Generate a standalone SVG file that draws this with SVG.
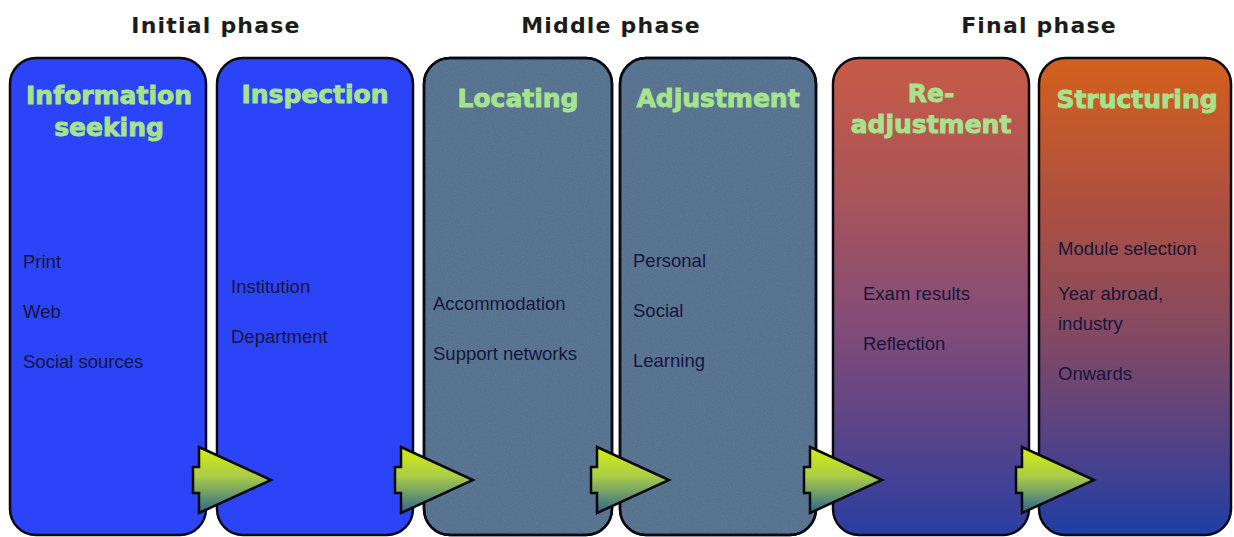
<svg xmlns="http://www.w3.org/2000/svg" xmlns:xlink="http://www.w3.org/1999/xlink" width="1234" height="537" viewBox="0 0 1234 537">
<style>
.card{stroke:#0a0a14;stroke-width:2.5}
.phase{font-family:"DejaVu Sans","Liberation Sans",sans-serif;font-weight:bold;font-size:22px;letter-spacing:1.2px;fill:#1c1c1c;text-anchor:middle}
.title{font-family:"DejaVu Sans","Liberation Sans",sans-serif;font-weight:bold;font-size:25px;fill:#a6e38c;stroke:#a6e38c;stroke-width:0.9px;text-anchor:middle}
.body{font-family:"Liberation Sans","Noto Sans",sans-serif;font-size:18.5px;fill:#16163c}
.arrow{fill:url(#arrowGrad);stroke:#0a0a0a;stroke-width:2.5;stroke-linejoin:miter}
</style>
<defs>
<linearGradient id="arrowGrad" x1="0" y1="0" x2="0" y2="1">
<stop offset="0" stop-color="#d6ee0e"/>
<stop offset="0.45" stop-color="#a8cc48"/>
<stop offset="1" stop-color="#2c6490"/>
</linearGradient>
<linearGradient id="red1" x1="0" y1="0" x2="0" y2="1">
<stop offset="0" stop-color="#c85a46"/>
<stop offset="0.3" stop-color="#a8545a"/>
<stop offset="0.55" stop-color="#844c78"/>
<stop offset="0.78" stop-color="#5a4488"/>
<stop offset="1" stop-color="#2a3ea2"/>
</linearGradient>
<linearGradient id="red2" x1="0" y1="0" x2="0" y2="1">
<stop offset="0" stop-color="#d4601c"/>
<stop offset="0.3" stop-color="#ae5040"/>
<stop offset="0.55" stop-color="#8a4a5e"/>
<stop offset="0.78" stop-color="#5a4282"/>
<stop offset="1" stop-color="#1e3ea4"/>
</linearGradient>
<filter id="noise" x="0" y="0" width="100%" height="100%" color-interpolation-filters="sRGB">
<feTurbulence type="fractalNoise" baseFrequency="0.9" numOctaves="2" seed="3" result="n"/>
<feColorMatrix in="n" type="matrix" values="0 0 0 0 0.45  0 0 0 0 0.55  0 0 0 0 0.66  0 0 0 0.6 -0.22" result="c"/>
<feComposite in="c" in2="SourceGraphic" operator="in"/>
</filter>
<path id="arr" d="M0,447 L72,480 L0,513 L0,493 L-6,493 L-6,467 L0,467 Z"/>
</defs>
<rect width="1234" height="537" fill="#ffffff"/>

<g id="phases">
<text class="phase" x="216" y="33">Initial phase</text>
<text class="phase" x="611" y="33">Middle phase</text>
<text class="phase" x="1039" y="33">Final phase</text>
</g>

<g id="node-information-seeking">
<rect class="card" x="10" y="58" width="196" height="477" rx="26" fill="#2b44f7"/>
<text class="title" x="109" y="104">Information</text>
<text class="title" x="109" y="136">seeking</text>
<text class="body" x="23" y="268">Print</text>
<text class="body" x="23" y="318">Web</text>
<text class="body" x="23" y="368">Social sources</text>
</g>

<g id="node-inspection">
<rect class="card" x="217" y="58" width="196" height="477" rx="26" fill="#2b44f7"/>
<text class="title" x="315" y="103">Inspection</text>
<text class="body" x="231" y="293">Institution</text>
<text class="body" x="231" y="343">Department</text>
</g>

<g id="node-locating">
<rect class="card" x="424" y="58" width="188" height="477" rx="26" fill="#57728f"/>
<rect x="424" y="58" width="188" height="477" rx="26" fill="#57728f" filter="url(#noise)"/>
<rect x="424" y="58" width="188" height="477" rx="26" fill="none" class="card"/>
<text class="title" x="518" y="107">Locating</text>
<text class="body" x="433" y="310">Accommodation</text>
<text class="body" x="433" y="360">Support networks</text>
</g>

<g id="node-adjustment">
<rect class="card" x="620" y="58" width="196" height="477" rx="26" fill="#57728f"/>
<rect x="620" y="58" width="196" height="477" rx="26" fill="#57728f" filter="url(#noise)"/>
<rect x="620" y="58" width="196" height="477" rx="26" fill="none" class="card"/>
<text class="title" x="718" y="107">Adjustment</text>
<text class="body" x="633" y="267">Personal</text>
<text class="body" x="633" y="317">Social</text>
<text class="body" x="633" y="367">Learning</text>
</g>

<g id="node-readjustment">
<rect class="card" x="833" y="58" width="196" height="477" rx="26" fill="url(#red1)"/>
<text class="title" x="931" y="102">Re-</text>
<text class="title" x="931" y="133">adjustment</text>
<text class="body" x="863" y="300">Exam results</text>
<text class="body" x="863" y="350">Reflection</text>
</g>

<g id="node-structuring">
<rect class="card" x="1039" y="58" width="192" height="477" rx="26" fill="url(#red2)"/>
<text class="title" x="1137" y="108">Structuring</text>
<text class="body" x="1058" y="255">Module selection</text>
<text class="body" x="1058" y="300">Year abroad,</text>
<text class="body" x="1058" y="330">industry</text>
<text class="body" x="1058" y="380">Onwards</text>
</g>

<g id="connectors">
<use xlink:href="#arr" href="#arr" class="arrow" transform="translate(199,0)"/>
<use xlink:href="#arr" href="#arr" class="arrow" transform="translate(401,0)"/>
<use xlink:href="#arr" href="#arr" class="arrow" transform="translate(597,0)"/>
<use xlink:href="#arr" href="#arr" class="arrow" transform="translate(810,0)"/>
<use xlink:href="#arr" href="#arr" class="arrow" transform="translate(1022,0)"/>
</g>
</svg>
